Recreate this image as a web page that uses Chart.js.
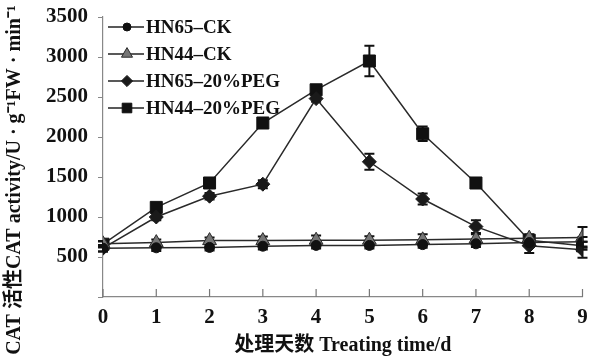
<!DOCTYPE html>
<html>
<head>
<meta charset="utf-8">
<script src="https://cdn.jsdelivr.net/npm/chart.js@4.4.0/dist/chart.umd.min.js"></script>
<style>
  html, body { margin: 0; padding: 0; background: #fff; }
  #wrap { width: 592px; height: 358px; position: relative; }
</style>
</head>
<body>
<div id="wrap"><canvas id="c" width="592" height="358"></canvas></div>
<script>
// Treatment days
const days = [0, 1, 2, 3, 4, 5, 6, 7, 8, 9];
const yTicks = [500, 1000, 1500, 2000, 2500, 3000, 3500];

// CAT activity (U · g-1 FW · min-1) per series, with standard errors
const hn65CK      = [610, 615, 620, 635, 645, 645, 655, 665, 680, 690];
const hn65CKErr   = [40, 40, 40, 40, 40, 40, 40, 40, 40, 60];
const hn44CK      = [665, 680, 705, 705, 710, 710, 715, 725, 735, 745];
const hn44CKErr   = [30, 40, 40, 50, 60, 50, 70, 60, 50, 130];
const hn65PEG     = [610, 1000, 1260, 1410, 2480, 1690, 1225, 880, 640, 590];
const hn65PEGErr  = [40, 40, 40, 50, 40, 100, 70, 80, 90, 100];
const hn44PEG     = [660, 1120, 1425, 2175, 2590, 2950, 2040, 1425, 710, 640];
const hn44PEGErr  = [40, 50, 40, 40, 40, 190, 90, 40, 50, 50];

const serif = '"Liberation Serif", "Noto Sans CJK SC", serif';
const yTitle = 'CAT 活性CAT activity/U · g\u207B\u00B9FW · min\u207B\u00B9';

function pts(vals, errs) {
  return days.map((d, i) => ({ x: d, y: vals[i], err: errs[i] }));
}

const seriesDefs = [
  { label: 'HN65\u2013CK', vals: hn65CK, errs: hn65CKErr, style: 'circle', radius: 5, fill: '#111', border: '#111' },
  { label: 'HN44\u2013CK', vals: hn44CK, errs: hn44CKErr, style: 'triangle', radius: 8, fill: '#767676', border: '#2a2a2a' },
  { label: 'HN65\u201320%PEG', vals: hn65PEG, errs: hn65PEGErr, style: 'rectRot', radius: 7, fill: '#1a1a1a', border: '#1a1a1a' },
  { label: 'HN44\u201320%PEG', vals: hn44PEG, errs: hn44PEGErr, style: 'rect', radius: 8.5, fill: '#111', border: '#111' }
];

// Vertical error bars with caps, drawn beneath the markers
const errorBars = {
  id: 'errorBars',
  beforeDatasetsDraw(chart) {
    const ctx = chart.ctx;
    const y = chart.scales.y;
    const x = chart.scales.x;
    ctx.save();
    ctx.strokeStyle = '#111';
    ctx.lineWidth = 2;
    chart.data.datasets.forEach(ds => {
      ds.data.forEach(p => {
        const top = y.getPixelForValue(p.y + p.err);
        const bot = y.getPixelForValue(p.y - p.err);
        const px = x.getPixelForValue(p.x);
        ctx.beginPath();
        ctx.moveTo(px, top); ctx.lineTo(px, bot);
        ctx.moveTo(px - 5, top); ctx.lineTo(px + 5, top);
        ctx.moveTo(px - 5, bot); ctx.lineTo(px + 5, bot);
        ctx.stroke();
      });
    });
    ctx.restore();
  }
};

// Inward tick marks on the x axis, legend inside the plot, rotated y title
const decorations = {
  id: 'decorations',
  afterDraw(chart) {
    const ctx = chart.ctx;
    const xs = chart.scales.x;
    const area = chart.chartArea;
    ctx.save();
    ctx.strokeStyle = '#777';
    ctx.lineWidth = 1.2;
    days.forEach(d => {
      const px = xs.getPixelForValue(d);
      ctx.beginPath();
      ctx.moveTo(px, area.bottom);
      ctx.lineTo(px, area.bottom - 8);
      ctx.stroke();
    });

    const left = area.left + 5;
    const rows = [27, 54, 81, 108];
    chart.data.datasets.forEach((ds, i) => {
      const yy = rows[i];
      ctx.strokeStyle = '#222';
      ctx.lineWidth = 1.5;
      ctx.beginPath();
      ctx.moveTo(left, yy);
      ctx.lineTo(left + 36, yy);
      ctx.stroke();
      ctx.fillStyle = ds.pointBackgroundColor;
      ctx.strokeStyle = ds.pointBorderColor;
      ctx.lineWidth = 1;
      Chart.helpers.drawPoint(ctx, {
        pointStyle: ds.pointStyle,
        radius: ds.pointRadius * 0.8,
        borderWidth: 1
      }, left + 19, yy);
      ctx.fillStyle = '#111';
      ctx.font = 'bold 19px ' + serif;
      ctx.textBaseline = 'middle';
      ctx.textAlign = 'left';
      ctx.fillText(ds.label, left + 38, yy + 1);
    });

    ctx.translate(15, 180);
    ctx.rotate(-Math.PI / 2);
    ctx.fillStyle = '#111';
    ctx.font = 'bold 20px ' + serif;
    ctx.textAlign = 'center';
    ctx.textBaseline = 'middle';
    ctx.fillText(yTitle, 0, 0);
    ctx.restore();
  }
};

new Chart(document.getElementById('c'), {
  type: 'line',
  data: {
    datasets: seriesDefs.map(s => ({
      label: s.label,
      data: pts(s.vals, s.errs),
      borderColor: '#2a2a2a',
      borderWidth: 1.5,
      pointStyle: s.style,
      pointRadius: s.radius,
      pointHoverRadius: s.radius,
      pointBackgroundColor: s.fill,
      pointBorderColor: s.border,
      pointBorderWidth: 1,
      tension: 0,
      fill: false
    }))
  },
  options: {
    responsive: false,
    animation: false,
    devicePixelRatio: 1,
    layout: { padding: { left: 0, right: 6, top: 17, bottom: 0 } },
    plugins: {
      legend: { display: false },
      tooltip: { enabled: false }
    },
    scales: {
      x: {
        type: 'linear',
        min: 0,
        max: 9,
        afterBuildTicks(scale) { scale.ticks = days.map(v => ({ value: v })); },
        ticks: {
          color: '#111',
          font: { family: serif, size: 21, weight: 'bold' },
          padding: 8,
          maxRotation: 0,
          callback: v => String(v)
        },
        grid: { display: false, drawTicks: false },
        border: { display: true, color: '#888', width: 1.2 },
        title: {
          display: true,
          text: '处理天数 Treating time/d',
          color: '#111',
          font: { family: serif, size: 20, weight: 'bold' },
          padding: { top: 0, bottom: 0 }
        },
        afterFit(scale) {
          scale.height = 61;
          scale.paddingLeft = 0;
          scale.paddingRight = 0;
        }
      },
      y: {
        min: 0,
        max: 3500,
        afterBuildTicks(scale) { scale.ticks = [0].concat(yTicks).map(v => ({ value: v })); },
        ticks: {
          color: '#111',
          font: { family: serif, size: 21, weight: 'bold' },
          padding: 10,
          callback: v => (v === 0 ? '' : String(v))
        },
        grid: { display: true, drawOnChartArea: false, drawTicks: true, tickLength: 5, color: '#888' },
        border: { display: true, color: '#888', width: 1.2 },
        afterFit(scale) {
          scale.width = 103;
          scale.paddingTop = 0;
          scale.paddingBottom = 0;
        }
      }
    }
  },
  plugins: [errorBars, decorations]
});
</script>
</body>
</html>
